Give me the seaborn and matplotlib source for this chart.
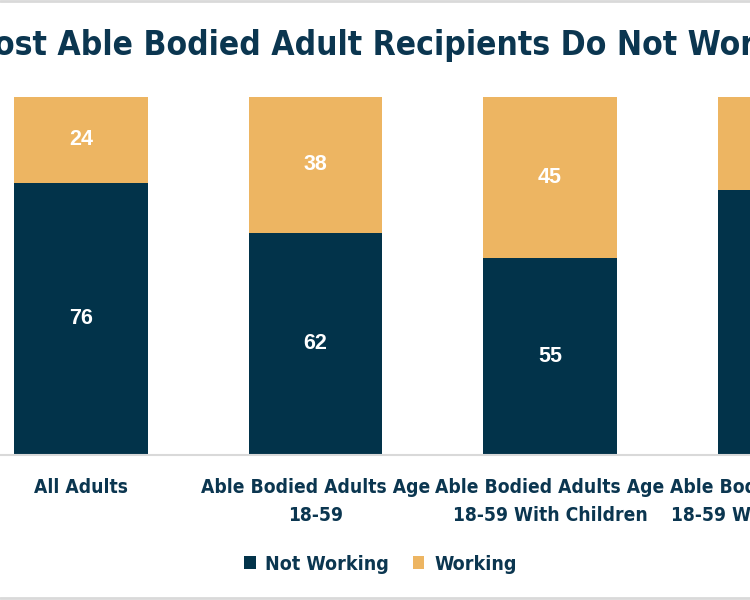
import numpy as np
import pandas as pd
import matplotlib.pyplot as plt
import seaborn as sns
from matplotlib.lines import Line2D

# Data
categories = ['All Adults',
              'Able Bodied Adults Age\n18-59',
              'Able Bodied Adults Age\n18-59 With Children',
              'Able Bodied Adults Age\n18-59 Without Children']
not_working = [76, 62, 55, 74]
working = [24, 38, 45, 26]

navy = '#02334A'
gold = '#EDB562'
text_col = '#0B3650'

df = pd.DataFrame({'Group': categories, 'Not Working': not_working, 'Working': working})
df['Total'] = df['Not Working'] + df['Working']

sns.set_theme(style='white')
plt.rcParams['font.family'] = ['Liberation Sans Narrow', 'DejaVu Sans']
plt.rcParams['font.stretch'] = 'condensed'

fig = plt.figure(figsize=(7.5, 6), dpi=100)
# axes wider than the figure: the chart is cropped on both sides
ax = fig.add_axes([-0.0483, 0.2417, 1.2507, 0.5967])

sns.barplot(data=df, x='Group', y='Total', color=gold, width=0.571,
            saturation=1, ax=ax, label='Working', linewidth=0)
sns.barplot(data=df, x='Group', y='Not Working', color=navy, width=0.571,
            saturation=1, ax=ax, label='Not Working', linewidth=0)

ax.set_xlim(-0.5, 3.5)
ax.set_ylim(0, 100)
ax.set_yticks([])
ax.set_xlabel('')
ax.set_ylabel('')
for s in ['top', 'left', 'right']:
    ax.spines[s].set_visible(False)
ax.spines['bottom'].set_color('#D9D9D9')
ax.spines['bottom'].set_linewidth(1.5)
ax.tick_params(axis='x', length=0, pad=16.5)
for lab in ax.get_xticklabels():
    lab.set_fontsize(13.8)
    lab.set_fontweight('bold')
    lab.set_color(text_col)
    lab.set_linespacing(1.6)

# value labels
for i, (nw, w) in enumerate(zip(not_working, working)):
    ax.text(i, nw / 2, str(nw), ha='center', va='center', color='white',
            fontsize=15.5, fontweight='bold', family='Liberation Sans', stretch='normal')
    ax.text(i, nw + w / 2, str(w), ha='center', va='center', color='white',
            fontsize=15.5, fontweight='bold', family='Liberation Sans', stretch='normal')

fig.text(0.493, 0.925, 'Most Able Bodied Adult Recipients Do Not Work',
         ha='center', va='center', fontsize=24.1, fontweight='bold', color=text_col)

handles, labels = ax.get_legend_handles_labels()
order = [labels.index('Not Working'), labels.index('Working')]
ax.legend([handles[k] for k in order], [labels[k] for k in order],
          loc='center', bbox_to_anchor=(0.507, 0.06), bbox_transform=fig.transFigure,
          ncol=2, frameon=False, handlelength=0.6, handleheight=0.6,
          handletextpad=0.5, columnspacing=1.2,
          prop={'size': 14, 'weight': 'bold'}, labelcolor=text_col)

# chart frame edges visible at the top and bottom of the crop
fig.add_artist(Line2D([0, 1], [0.998, 0.998], transform=fig.transFigure, color='#D9D9D9', lw=2))
fig.add_artist(Line2D([0, 1], [0.003, 0.003], transform=fig.transFigure, color='#D9D9D9', lw=2))

fig.savefig('out.png', dpi=100)
